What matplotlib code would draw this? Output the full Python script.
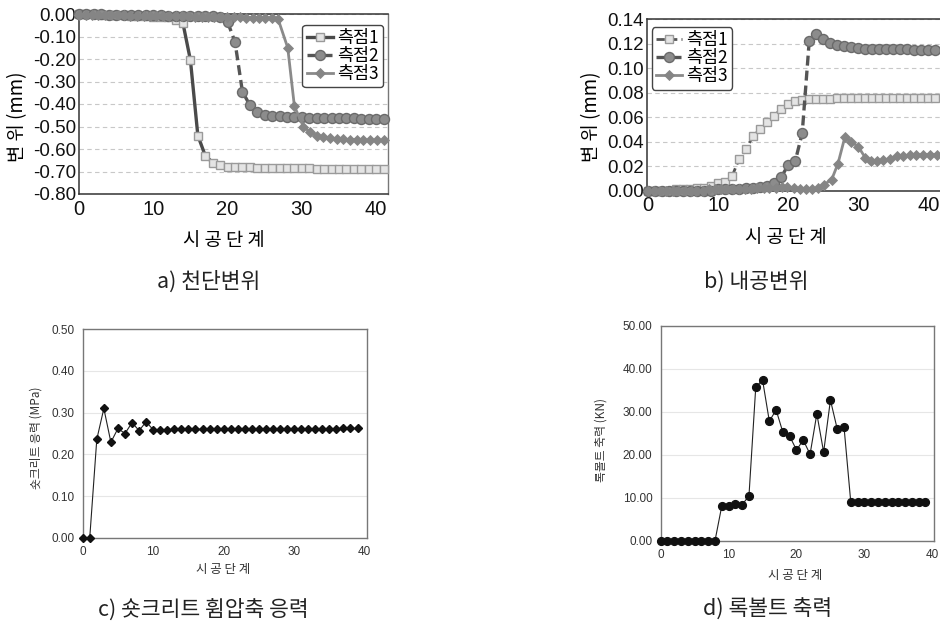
import matplotlib
matplotlib.use("Agg")
import matplotlib.pyplot as plt

KR = ['Noto Sans CJK KR', 'DejaVu Sans']
NUM = ['Liberation Sans', 'DejaVu Sans']

# ---------------- data ----------------
steps_a = list(range(42))
crown_p1 = [0.000, -0.001, -0.002, -0.003, -0.004, -0.005, -0.006, -0.008, -0.009, -0.010,
            -0.012, -0.013, -0.015, -0.025, -0.042, -0.205, -0.540, -0.630, -0.660, -0.673,
            -0.678, -0.680, -0.681, -0.682, -0.683, -0.683, -0.684, -0.684, -0.685, -0.685,
            -0.686, -0.686, -0.687, -0.687, -0.687, -0.688, -0.688, -0.688, -0.689, -0.689,
            -0.689, -0.690]
crown_p2 = [-0.001, -0.001, -0.002, -0.002, -0.003, -0.003, -0.004, -0.004, -0.005, -0.005,
            -0.006, -0.006, -0.007, -0.007, -0.008, -0.008, -0.009, -0.010, -0.011, -0.013,
            -0.035, -0.124, -0.345, -0.405, -0.437, -0.447, -0.452, -0.454, -0.456, -0.458,
            -0.459, -0.460, -0.461, -0.462, -0.462, -0.463, -0.464, -0.464, -0.465, -0.465,
            -0.466, -0.467]
crown_x3 = [0.0, 0.9, 1.7, 2.6, 3.5, 4.3, 5.2, 6.1, 6.9, 7.8, 8.7, 9.5, 10.4, 11.3, 12.1, 13.0,
            13.9, 14.7, 15.6, 16.5, 17.3, 18.2, 19.1, 19.9, 20.8, 21.7, 22.5, 23.4, 24.3, 25.1,
            26.0, 26.8, 28.1, 29.0, 30.2, 31.1, 32.0, 32.9, 33.8, 34.7, 35.6, 36.5, 37.4, 38.3,
            39.2, 40.1, 41.0]
crown_p3 = [-0.003, -0.003, -0.004, -0.004, -0.005, -0.005, -0.006, -0.006, -0.007, -0.007,
            -0.008, -0.008, -0.009, -0.009, -0.010, -0.010, -0.011, -0.011, -0.012, -0.012,
            -0.013, -0.013, -0.014, -0.014, -0.015, -0.015, -0.016, -0.016, -0.017, -0.017,
            -0.018, -0.022, -0.150, -0.410, -0.500, -0.525, -0.540, -0.548, -0.552, -0.555,
            -0.557, -0.558, -0.559, -0.560, -0.561, -0.562, -0.562]

steps_b = list(range(42))
conv_p1 = [0.000, 0.000, 0.000, 0.000, 0.001, 0.001, 0.001, 0.002, 0.002, 0.004,
           0.006, 0.007, 0.012, 0.026, 0.034, 0.045, 0.050, 0.056, 0.061, 0.067,
           0.071, 0.073, 0.074, 0.075, 0.075, 0.075, 0.075, 0.0755, 0.0755, 0.0755,
           0.076, 0.076, 0.076, 0.076, 0.076, 0.076, 0.076, 0.076, 0.076, 0.076,
           0.076, 0.076]
conv_p2 = [0.000, 0.000, 0.000, 0.000, 0.000, 0.000, 0.000, 0.000, 0.000, 0.000,
           0.001, 0.001, 0.001, 0.001, 0.002, 0.002, 0.003, 0.004, 0.006, 0.011,
           0.021, 0.024, 0.047, 0.122, 0.128, 0.124, 0.121, 0.119, 0.118, 0.117,
           0.1165, 0.116, 0.116, 0.116, 0.1155, 0.1155, 0.1155, 0.1155, 0.115, 0.115,
           0.115, 0.115]
conv_x3 = [0.0, 0.9, 1.7, 2.6, 3.5, 4.3, 5.2, 6.1, 6.9, 7.8, 8.7, 9.5, 10.4, 11.3, 12.1, 13.0,
           13.9, 14.7, 15.6, 16.5, 17.3, 18.2, 19.1, 19.9, 20.8, 21.7, 22.5, 23.4, 24.2, 25.1,
           26.2, 27.1, 28.1, 29.0, 30.0, 31.0, 31.8, 32.7, 33.6, 34.5, 35.5, 36.4, 37.4, 38.3,
           39.3, 40.2, 41.2]
conv_p3 = [0.000, 0.000, 0.000, 0.000, 0.000, 0.000, 0.000, 0.000, 0.000, 0.000,
           0.001, 0.001, 0.001, 0.001, 0.001, 0.001, 0.001, 0.001, 0.002, 0.002,
           0.002, 0.002, 0.003, 0.003, 0.002, 0.001, 0.001, 0.001, 0.002, 0.005,
           0.009, 0.022, 0.044, 0.040, 0.036, 0.027, 0.024, 0.024, 0.025, 0.026,
           0.028, 0.0285, 0.029, 0.029, 0.0295, 0.0295, 0.0295]

steps_c = list(range(40))
shot_stress = [0.0, 0.0, 0.236, 0.310, 0.229, 0.262, 0.250, 0.276, 0.257, 0.278,
               0.259, 0.259, 0.259, 0.260, 0.260, 0.260, 0.260, 0.260, 0.260, 0.260,
               0.260, 0.260, 0.260, 0.260, 0.260, 0.260, 0.260, 0.260, 0.260, 0.260,
               0.260, 0.260, 0.260, 0.260, 0.260, 0.260, 0.261, 0.262, 0.262, 0.262]

steps_d = list(range(40))
bolt_force = [0, 0, 0, 0, 0, 0, 0, 0, 0, 8.1,
              8.1, 8.5, 8.4, 10.4, 35.7, 37.4, 27.8, 30.4, 25.2, 24.3,
              21.1, 23.4, 20.1, 29.5, 20.6, 32.7, 26.0, 26.5, 8.9, 9.0,
              9.0, 9.0, 9.0, 9.0, 9.0, 9.0, 9.0, 9.0, 9.0, 9.0]

series_labels = ['측점1', '측점2', '측점3']
xticks_ab = [0, 10, 20, 30, 40]
yticks_a = [-0.8, -0.7, -0.6, -0.5, -0.4, -0.3, -0.2, -0.1, 0.0]
yticklabels_a = ['-0.80', '-0.70', '-0.60', '-0.50', '-0.40', '-0.30', '-0.20', '-0.10', '0.00']
yticks_b = [0.0, 0.02, 0.04, 0.06, 0.08, 0.10, 0.12, 0.14]
yticklabels_b = ['0.00', '0.02', '0.04', '0.06', '0.08', '0.10', '0.12', '0.14']
yticks_c = [0.0, 0.1, 0.2, 0.3, 0.4, 0.5]
yticklabels_c = ['0.00', '0.10', '0.20', '0.30', '0.40', '0.50']
yticks_d = [0, 10, 20, 30, 40, 50]
yticklabels_d = ['0.00', '10.00', '20.00', '30.00', '40.00', '50.00']
captions = ['a) 천단변위', 'b) 내공변위', 'c) 숏크리트 휨압축 응력', 'd) 록볼트 축력']

W, H = 940, 628
fig = plt.figure(figsize=(9.4, 6.28), dpi=100)
fig.patch.set_facecolor('white')


def box(l, t, r, b):
    return [l / W, 1 - b / H, (r - l) / W, (b - t) / H]


sq_style = dict(marker='s', markersize=6.2, markerfacecolor='#e4e4e4',
                markeredgecolor='#9a9a9a', markeredgewidth=1.0)
ci_style = dict(marker='o', markersize=7.2, markerfacecolor='#8c8c8c',
                markeredgecolor='#6a6a6a', markeredgewidth=1.0)
di_style = dict(marker='D', markersize=5.0, markerfacecolor='#858585',
                markeredgecolor='#858585', markeredgewidth=0.6)


def style_top(ax, yticks, ylabels):
    ax.set_xticks(xticks_ab)
    ax.set_xticklabels([str(v) for v in xticks_ab], family=NUM, fontsize=14.5)
    ax.set_yticks(yticks)
    ax.set_yticklabels(ylabels, family=NUM, fontsize=13.5)
    ax.tick_params(length=0, pad=2, colors='#111111')
    ax.tick_params(axis='x', pad=4)
    ax.yaxis.grid(True, linestyle=(0, (4, 3)), color='#c8c8c8', linewidth=0.8)
    ax.set_axisbelow(True)
    for s in ['left', 'bottom', 'top']:
        ax.spines[s].set_color('#333333')
        ax.spines[s].set_linewidth(1.1)
    ax.spines['right'].set_color('#777777')
    ax.spines['right'].set_linewidth(1.0)
    ax.set_xlabel('시 공 단 계', family=KR, fontsize=13.5, fontweight='medium')
    ax.set_ylabel('변 위 (mm)', family=KR, fontsize=13.5, fontweight='medium')


legend_kw = dict(prop={'family': KR, 'size': 12.5, 'weight': 'medium'},
                 frameon=True, fancybox=True, edgecolor='#444444', framealpha=1,
                 handlelength=1.5, handletextpad=0.25, labelspacing=0.0, borderpad=0.25,
                 borderaxespad=0.2)

# ---------------- panel a ----------------
axa = fig.add_axes(box(79, 14, 388, 194))
axa.plot(steps_a, crown_p1, color='#4a4a4a', lw=2.4, ls='-', label=series_labels[0],
         clip_on=False, zorder=3, **sq_style)
axa.plot(steps_a, crown_p2, color='#555555', lw=2.4, ls=(0, (3, 1.5)), label=series_labels[1],
         clip_on=False, zorder=4, **ci_style)
axa.plot(crown_x3, crown_p3, color='#8a8a8a', lw=2.0, ls='-', label=series_labels[2],
         clip_on=False, zorder=5, **di_style)
axa.set_xlim(0, 41.6)
axa.set_ylim(-0.8, 0.0)
style_top(axa, yticks_a, yticklabels_a)
axa.xaxis.set_label_coords(0.47, -0.2)
axa.yaxis.set_label_coords(-0.165, 0.43)
lga = axa.legend(loc='upper right', bbox_to_anchor=(0.995, 0.96), **legend_kw)
lga.get_frame().set_linewidth(1.0)

# ---------------- panel b ----------------
axb = fig.add_axes(box(646.7, 19.3, 942.3, 190.7))
axb.plot(steps_b, conv_p1, color='#555555', lw=2.0, ls=(0, (3, 1.5)), label=series_labels[0],
         clip_on=False, zorder=3, **sq_style)
axb.plot(steps_b, conv_p2, color='#555555', lw=2.4, ls=(0, (3, 1.5)), label=series_labels[1],
         clip_on=False, zorder=4, **ci_style)
axb.plot(conv_x3, conv_p3, color='#8a8a8a', lw=2.0, ls='-', label=series_labels[2],
         clip_on=False, zorder=5, **di_style)
axb.set_xlim(-0.2, 42)
axb.set_ylim(0.0, 0.14)
style_top(axb, yticks_b, yticklabels_b)
axb.xaxis.set_label_coords(0.47, -0.21)
axb.yaxis.set_label_coords(-0.15, 0.43)
lgb = axb.legend(loc='upper left', bbox_to_anchor=(0.005, 0.975), **legend_kw)
lgb.get_frame().set_linewidth(1.0)


def style_bottom(ax, yticks, ylabels, ylabel):
    ax.set_xticks(xticks_ab)
    ax.set_xticklabels([str(v) for v in xticks_ab], family=NUM, fontsize=8.5, color='#333333')
    ax.set_yticks(yticks)
    ax.set_yticklabels(ylabels, family=NUM, fontsize=8.5, color='#333333')
    ax.tick_params(length=0, pad=6)
    ax.yaxis.grid(True, linestyle='-', color='#e6e6e6', linewidth=0.8)
    ax.set_axisbelow(True)
    for s in ax.spines.values():
        s.set_color('#777777')
        s.set_linewidth(1.0)
    ax.set_xlabel('시 공 단 계', family=KR, fontsize=9, color='#333333')
    ax.set_ylabel(ylabel, family=KR, fontsize=8.5, color='#333333')


# ---------------- panel c ----------------
axc = fig.add_axes(box(82.7, 329.3, 366.7, 537.7))
axc.plot(steps_c, shot_stress, color='#222222', lw=0.8, marker='D', markersize=4.4,
         markerfacecolor='#111111', markeredgecolor='#111111', clip_on=False, zorder=3)
axc.set_xlim(0, 40.3)
axc.set_ylim(0, 0.5)
style_bottom(axc, yticks_c, yticklabels_c, '숏크리트 응력 (MPa)')
axc.xaxis.set_label_coords(0.494, -0.12)
axc.yaxis.set_label_coords(-0.14, 0.48)

# ---------------- panel d ----------------
axd = fig.add_axes(box(660.7, 325.7, 934.3, 540.7))
axd.plot(steps_d, bolt_force, color='#222222', lw=0.8, marker='o', markersize=5.6,
         markerfacecolor='#111111', markeredgecolor='#111111', clip_on=False, zorder=3)
axd.set_xlim(0, 40.3)
axd.set_ylim(0, 50)
style_bottom(axd, yticks_d, yticklabels_d, '록볼트 축력 (KN)')
axd.xaxis.set_label_coords(0.49, -0.13)
axd.yaxis.set_label_coords(-0.196, 0.47)

# ---------------- captions ----------------
cap_pos = [(209, 282), (756, 282), (203, 610), (768, 610)]
for (cx, cy), txt in zip(cap_pos, captions):
    fig.text(cx / W, 1 - cy / H, txt, family=KR, fontsize=15.5, color='#222222',
             ha='center', va='center', fontweight='light')

fig.savefig('out.png', dpi=100, facecolor='white')
